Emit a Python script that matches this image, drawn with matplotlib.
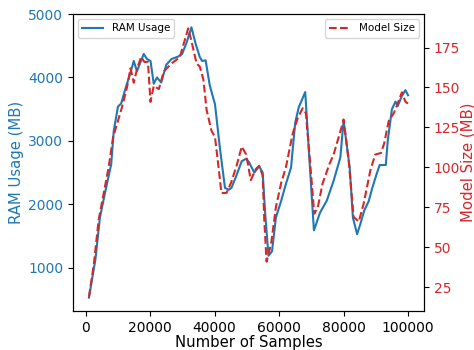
import matplotlib
matplotlib.use("Agg")
import matplotlib.pyplot as plt

# RAM usage (MB) vs number of samples
ram_samples = [1000, 3000, 4400, 6100, 7900, 8700, 10000, 11000, 12300, 13900,
               14900, 15900, 18000, 19000, 20100, 21100, 22100, 23400, 25000, 26600,
               28700, 29900, 31300, 32800, 34100, 35400, 36100, 37200, 38500, 40100,
               41600, 43200, 44400, 45200, 46500, 47300, 48400, 49800, 50700, 52300,
               53800, 54900, 55700, 56700, 57800, 59000, 60600, 62100, 63700, 65000,
               66100, 68100, 69300, 70800, 72700, 74800, 76900, 79000, 80000, 81900,
               82900, 84200, 85200, 86400, 87800, 88800, 90200, 91200, 93100, 93700,
               95000, 96100, 96800, 98100, 99200, 100000]
ram_usage = [530, 1130, 1790, 2210, 2630, 3160, 3540, 3590, 3820, 4080,
             4260, 4100, 4370, 4290, 4260, 3900, 4000, 3920, 4200, 4290,
             4330, 4370, 4550, 4790, 4530, 4320, 4260, 4270, 3870, 3580,
             2900, 2260, 2230, 2260, 2420, 2530, 2680, 2720, 2660, 2500,
             2600, 2500, 1840, 1190, 1260, 1790, 2050, 2320, 2580, 3290,
             3530, 3770, 2790, 1590, 1870, 2060, 2370, 2740, 3320, 2580,
             1790, 1530, 1690, 1900, 2050, 2240, 2470, 2620, 2620, 3000,
             3500, 3620, 3550, 3710, 3800, 3720]

# Model size (MB) vs number of samples
model_samples = [1000, 2500, 4000, 5600, 7100, 8500, 9700, 11300, 12800, 13900,
                 14900, 16100, 17200, 18200, 19300, 20100, 21100, 22700, 24200, 26600,
                 29200, 30200, 31800, 32800, 34400, 35400, 36500, 37500, 39000, 40100,
                 41100, 42100, 43700, 45200, 46800, 48400, 49800, 51200, 52800, 53800,
                 54900, 55400, 56100, 57500, 59000, 60600, 62100, 64200, 65800, 67300,
                 68300, 69900, 70900, 72000, 73500, 75600, 76900, 79500, 80000, 81600,
                 83100, 84700, 86200, 88300, 89800, 91600, 92600, 94000, 95600, 96600,
                 98100, 99200, 100000]
model_size = [19, 39, 67, 84, 100, 119, 127, 138, 150, 162,
              153, 163, 169, 166, 166, 141, 151, 149, 160, 165,
              169, 176, 187, 179, 165, 163, 155, 136, 123, 119,
              102, 84, 84, 91, 101, 113, 108, 92, 99, 101,
              95, 67, 41, 52, 75, 90, 100, 121, 131, 137,
              134, 96, 71, 75, 90, 102, 108, 126, 130, 104,
              69, 66, 77, 98, 108, 109, 115, 129, 134, 139,
              147, 141, 140]

fig, ax1 = plt.subplots(figsize=(4.74, 3.5), dpi=100)
fig.subplots_adjust(left=0.154, right=0.8945, bottom=0.111, top=0.96)

ax1.plot(ram_samples, ram_usage, color="tab:blue", label="RAM Usage")
ax1.set_xlabel("Number of Samples", fontsize=10.7, labelpad=0)
ax1.set_ylabel("RAM Usage (MB)", color="tab:blue", fontsize=10.7, labelpad=3)
ax1.tick_params(axis="y", labelcolor="tab:blue")
ax1.set_ylim(317, 5000)
ax1.legend(loc="upper left", fontsize=7.5)

ax2 = ax1.twinx()
ax2.plot(model_samples, model_size, color="tab:red", linestyle="--", label="Model Size")
ax2.set_ylabel("Model Size (MB)", color="tab:red", fontsize=10.7, labelpad=0)
ax2.tick_params(axis="y", labelcolor="tab:red")
ax2.set_ylim(10, 196)
ax2.legend(loc="upper right", fontsize=7.5)

fig.savefig("out.png", dpi=100)
